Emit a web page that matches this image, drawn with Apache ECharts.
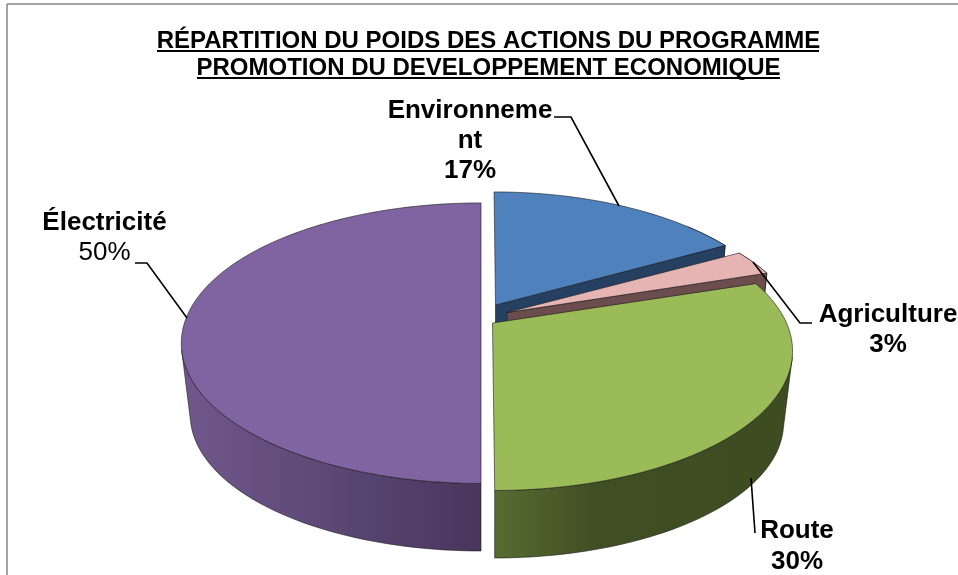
<!DOCTYPE html>
<html>
<head>
<meta charset="utf-8">
<style>html,body{margin:0;padding:0;background:#fff}#c{width:958px;height:575px}</style>
<script src="https://cdn.jsdelivr.net/npm/echarts@6/dist/echarts.min.js"></script>
</head>
<body>
<div id="c"></div>
<script>
const titleLines = ["RÉPARTITION DU POIDS DES ACTIONS DU PROGRAMME", "PROMOTION DU DEVELOPPEMENT ECONOMIQUE"];
const categories = ["Environnement", "Agriculture", "Route", "Électricité"];
const labelNames = [["Environneme", "nt"], ["Agriculture"], ["Route"], ["Électricité"]];
const values = [17, 3, 30, 50];
const percentSuffix = "%";

const FONT = '"Liberation Sans", Arial, sans-serif';
const total = values.reduce((a, b) => a + b, 0);
const starts = [];
values.reduce((acc, v, i) => { starts[i] = acc; return acc + v; }, 0);

// Perspective model of the disc: a point (u, v) on the unit disc maps to
// (A u / (1 + k v), -B v / (1 + k v)) around the exploded slice's apex.
const K = 0.194, A = 294, B = 135;
const DROP = 72.5, BOTTOM_SCALE = 0.97;
const VIS_FROM = 104, VIS_TO = 256;

const looks = [
  { ax: 495.5, ay: 305, sx: 0.978, lean: 1.7, top: '#4F81BD', cut: '#254061', wall: [[0, '#2b4a70'], [1, '#254061']] },
  { ax: 507, ay: 312.5, sx: 0.985, lean: 0, top: '#E6B5B3', cut: '#6A4D4C', wall: [[0, '#6A4D4C'], [1, '#6A4D4C']] },
  { ax: 492.5, ay: 323, sx: 1, lean: 1.8, top: '#9BBB59', cut: '#3F4D22', wall: [[0, '#566C30'], [0.35, '#404E23'], [1, '#3E4C21']] },
  { ax: 481, ay: 316, sx: 1, lean: 0, top: '#8064A2', cut: '#4A3559', wall: [[0, '#70578C'], [0.3, '#644E7E'], [0.65, '#56426E'], [1, '#4A355C']] }
];

function project(look, deg, r, lower) {
  const t = deg * Math.PI / 180;
  const u = r * Math.sin(t), v = r * Math.cos(t);
  const w = 1 + K * v;
  const s = lower ? BOTTOM_SCALE : 1;
  return [
    look.ax + s * (A * look.sx * u - look.lean * v) / w,
    look.ay + (lower ? DROP : 0) - s * B * v / w
  ];
}
function arc(look, a0, a1, lower) {
  const pts = [], n = Math.max(2, Math.ceil(Math.abs(a1 - a0) / 1.5));
  for (let i = 0; i <= n; i++) pts.push(project(look, a0 + (a1 - a0) * i / n, 1, lower));
  return pts;
}
function sideGradient(stops) {
  return { type: 'linear', x: 0, y: 0, x2: 1, y2: 0,
    colorStops: stops.map(s => ({ offset: s[0], color: s[1] })) };
}

function renderSlice(params, api) {
  const i = params.dataIndex;
  const value = api.value(0);
  const look = looks[i];
  const a0 = starts[i] / total * 360;
  const a1 = a0 + value / total * 360;
  const children = [];
  const edge = { stroke: 'rgba(25,25,25,0.75)', lineWidth: 0.8, lineJoin: 'round' };

  // outer wall, limited to the part that shows below the top face
  let w0 = a0, w1 = a1;
  if (a1 > VIS_FROM && a0 < VIS_TO) { w0 = Math.max(a0, VIS_FROM); w1 = Math.min(a1, VIS_TO); }
  else { w0 = Math.max(a0, a1 - 12); }
  const wall = arc(look, w0, w1, false).concat(arc(look, w1, w0, true));
  children.push({ type: 'polygon', shape: { points: wall },
    style: Object.assign({ fill: sideGradient(look.wall) }, edge) });
  // cut face on the clockwise end
  if (a1 < 180) {
    const apex = project(look, 0, 0, false), apexLow = project(look, 0, 0, true);
    children.push({ type: 'polygon',
      shape: { points: [apex, project(look, a1, 1, false), project(look, a1, 1, true), apexLow] },
      style: Object.assign({ fill: look.cut }, edge) });
  }
  // top face
  const topPts = [project(look, 0, 0, false)].concat(arc(look, a0, a1, false));
  children.push({ type: 'polygon', shape: { points: topPts },
    style: Object.assign({ fill: look.top }, edge) });
  return { type: 'group', children };
}

const labelLook = [
  { x: 470, y: 111, gap: 30, leader: [[554, 117], [571, 117], [619, 206]], boldPct: true },
  { x: 888, y: 315, gap: 30, leader: [[753, 262], [800, 323], [812, 323]], boldPct: true },
  { x: 797, y: 531, gap: 31, leader: [[751, 478], [755, 533]], boldPct: true },
  { x: 104.5, y: 223, gap: 30, leader: [[135, 263], [147, 263], [187, 318]], boldPct: false }
];

function renderLabel(params, api) {
  const i = params.dataIndex;
  const look = labelLook[i];
  const lines = labelNames[i].concat([api.value(0) + percentSuffix]);
  const children = [{ type: 'polyline', shape: { points: look.leader },
    style: { stroke: '#000', lineWidth: 1.6, fill: null } }];
  lines.forEach((line, n) => {
    const isPct = n === lines.length - 1;
    children.push({ type: 'text', style: {
      text: line, x: look.x, y: look.y + n * look.gap, align: 'center', verticalAlign: 'middle',
      textAlign: 'center', textVerticalAlign: 'middle',
      fontFamily: FONT, fontSize: 26, fontWeight: (!isPct || look.boldPct) ? 'bold' : 'normal', fill: '#000'
    } });
  });
  return { type: 'group', children };
}

const chart = echarts.init(document.getElementById('c'), null, { renderer: 'canvas' });
chart.setOption({
  animation: false,
  backgroundColor: '#fff',
  title: {
    text: titleLines.join('\n'),
    left: 483.5, top: 23, textAlign: 'center',
    textStyle: { fontFamily: FONT, fontSize: 24, fontWeight: 'bold', color: '#000', lineHeight: 27 }
  },
  graphic: [
    { type: 'line', shape: { x1: 7, y1: 4, x2: 958, y2: 4 }, style: { stroke: '#868686', lineWidth: 1.5 } },
    { type: 'line', shape: { x1: 7, y1: 4, x2: 7, y2: 575 }, style: { stroke: '#868686', lineWidth: 1.5 } },
    { type: 'rect', shape: { x: 157, y: 50, width: 662, height: 2 }, style: { fill: '#000' } },
    { type: 'rect', shape: { x: 197, y: 77, width: 583, height: 2 }, style: { fill: '#000' } }
  ],
  series: [
    { type: 'custom', name: 'Poids', coordinateSystem: 'none', renderItem: renderSlice, data: values,
      encode: { itemName: 0 }, silent: true },
    { type: 'custom', name: 'Libellés', coordinateSystem: 'none', renderItem: renderLabel, data: values, silent: true, z: 5 }
  ]
});
</script>
</body>
</html>
